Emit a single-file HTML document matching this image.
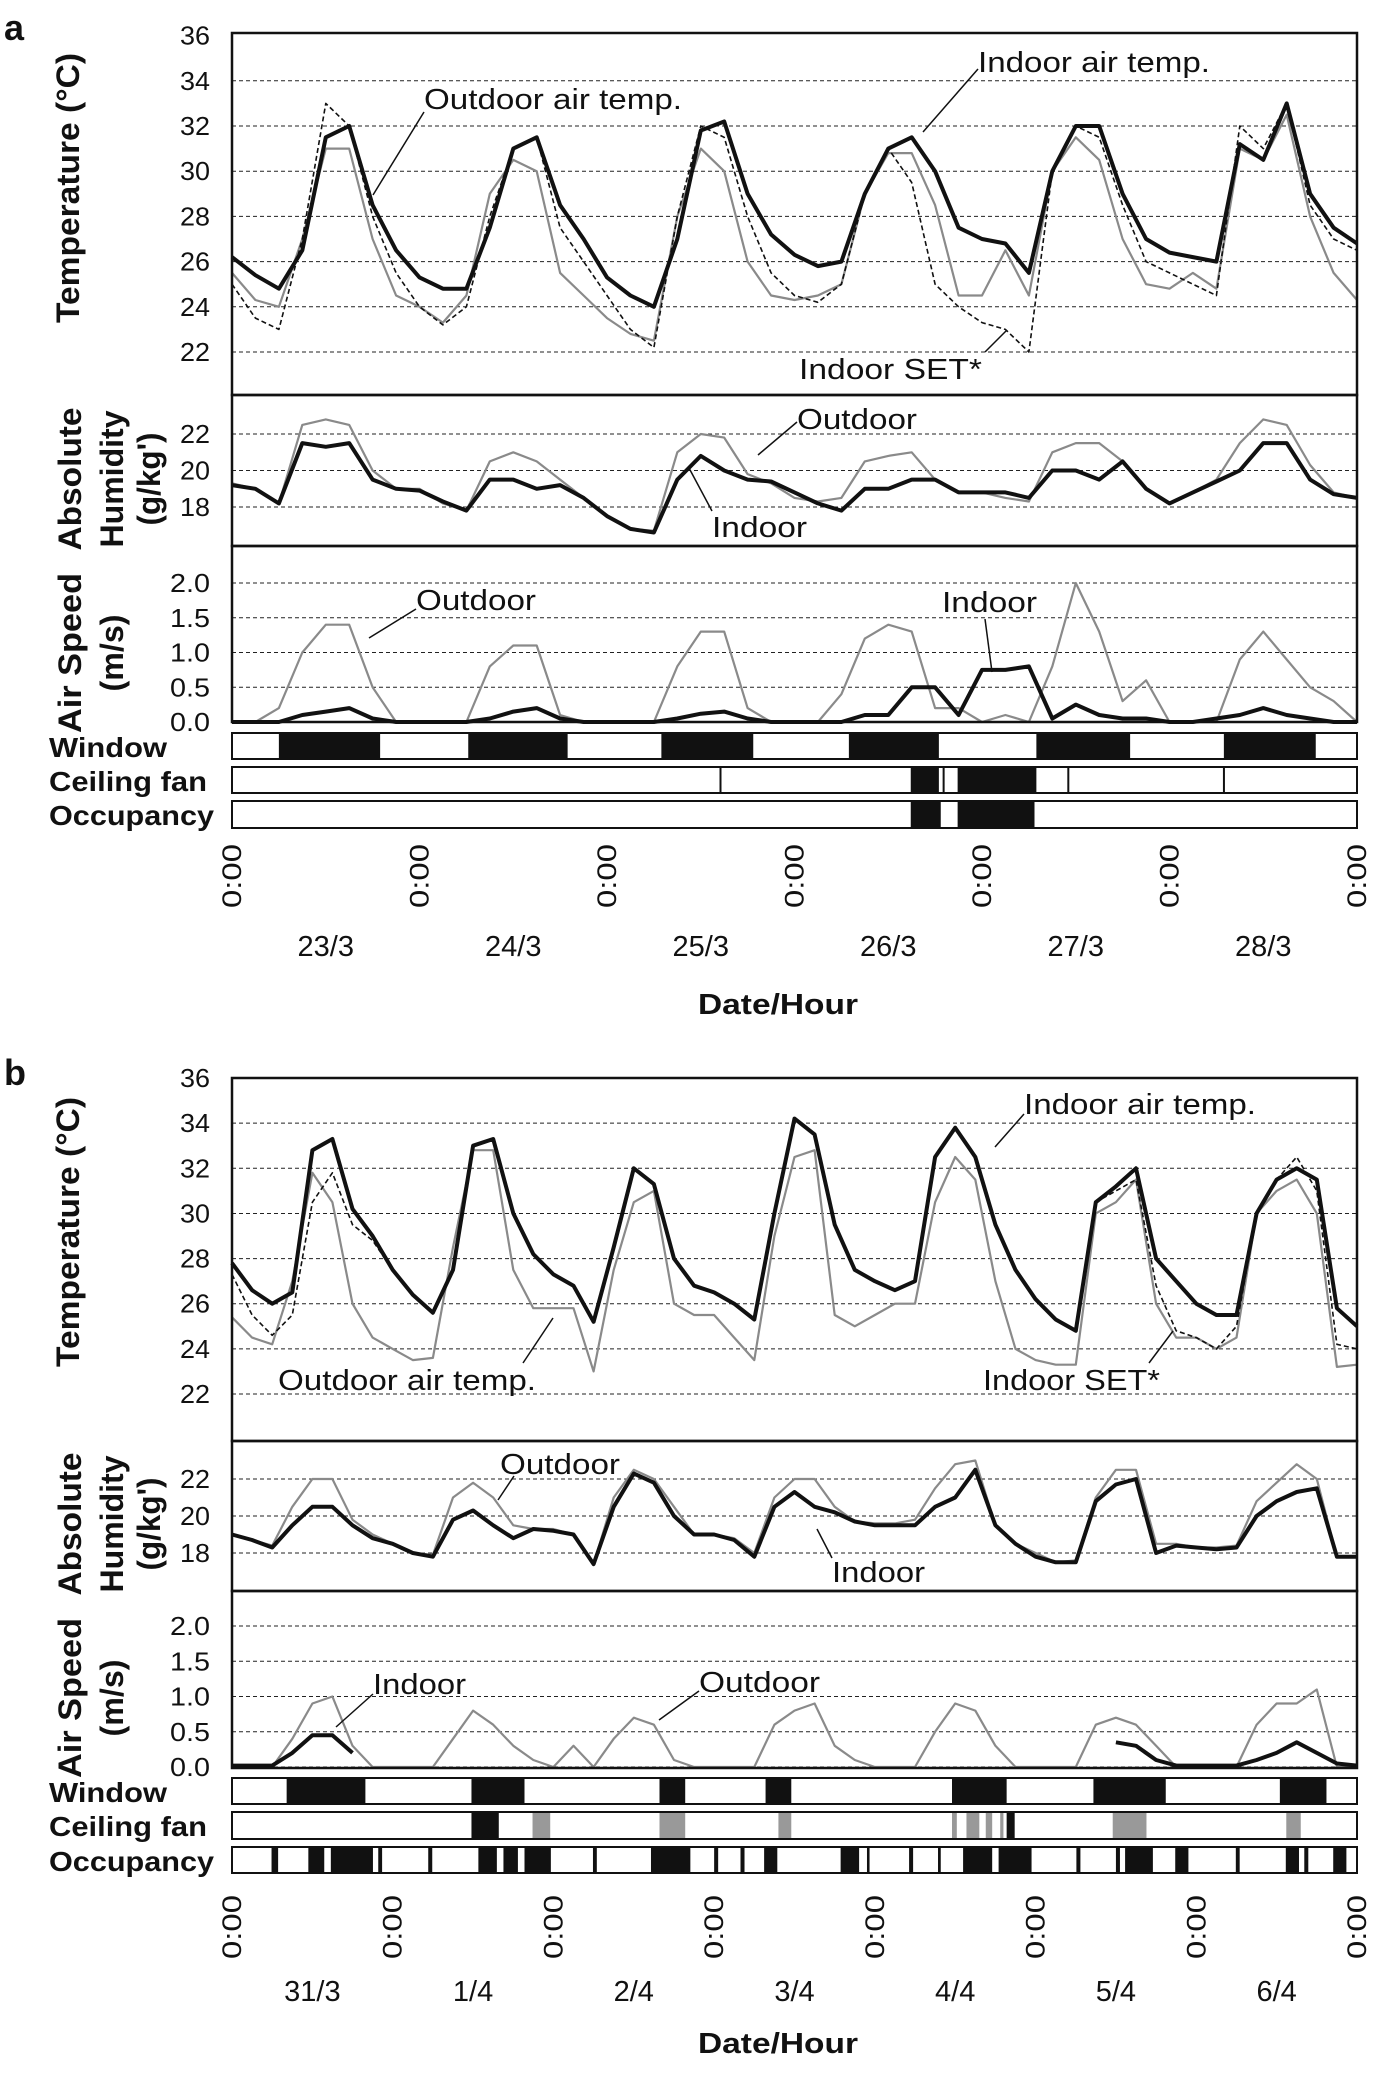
<!DOCTYPE html>
<html><head><meta charset="utf-8"><style>
html,body{margin:0;padding:0;background:#fff}
svg{display:block;font-family:"Liberation Sans",Arial,sans-serif}
</style></head><body>
<svg id="fig" width="1384" height="2075" viewBox="0 0 1384 2075"></svg>
<script>
// ===== Panel a data (3-hourly samples, 6 days + end point) =====
const aDays = ["23/3","24/3","25/3","26/3","27/3","28/3"];
const aTempIndoor = [26.2,25.4,24.8,26.5,31.5,32.0,28.5,26.5, 25.3,24.8,24.8,27.5,31.0,31.5,28.5,27.0, 25.3,24.5,24.0,27,31.8,32.2,29,27.2, 26.3,25.8,26.0,29.0,31.0,31.5,30.0,27.5, 27.0,26.8,25.5,30,32,32,29,27, 26.4,26.2,26.0,31.2,30.5,33.0,29,27.5, 26.8];
const aTempOutdoor = [25.5,24.3,24.0,27,31,31,27,24.5, 24,23.3,24.5,29,30.5,30,25.5,24.5, 23.5,22.8,22.5,28,31,30,26,24.5, 24.3,24.5,25,29,30.8,30.8,28.5,24.5, 24.5,26.5,24.5,30,31.5,30.5,27,25, 24.8,25.5,24.8,31,30.5,32.5,28,25.5, 24.3];
const aTempSET = [25,23.5,23,27,33,32,28,25.5, 24,23.2,24,28,31,31.5,27.5,26, 24.5,23,22.2,28,32,31.5,28,25.5, 24.5,24.2,25,29,31,29.5,25,24, 23.3,23,22,30,32,31.5,28.5,26, 25.5,25,24.5,32,31,33,28.5,27, 26.5];
const aHumIndoor = [19.2,19,18.2,21.5,21.3,21.5,19.5,19.0, 18.9,18.3,17.8,19.5,19.5,19,19.2,18.5, 17.5,16.8,16.6,19.5,20.8,20,19.5,19.4, 18.8,18.2,17.8,19,19,19.5,19.5,18.8, 18.8,18.8,18.5,20,20,19.5,20.5,19, 18.2,18.8,19.4,20,21.5,21.5,19.5,18.7, 18.5];
const aHumOutdoor = [19.3,19,18.2,22.5,22.8,22.5,20,19, 19,18.2,17.8,20.5,21,20.5,19.5,18.5, 17.5,16.8,16.7,21,22,21.8,19.8,19.3, 18.5,18.3,18.5,20.5,20.8,21,19.5,18.8, 18.8,18.5,18.3,21,21.5,21.5,20.5,19, 18.2,18.8,19.5,21.5,22.8,22.5,20.3,18.8, 18.5];
const aAirOutdoor = [0,0,0.2,1.0,1.4,1.4,0.5,0, 0,0,0,0.8,1.1,1.1,0.1,0, 0,0,0,0.8,1.3,1.3,0.2,0, 0,0,0.4,1.2,1.4,1.3,0.2,0.2, 0,0.1,0,0.8,2.0,1.3,0.3,0.6, 0,0,0,0.9,1.3,0.9,0.5,0.3, 0];
const aAirIndoor = [0,0,0,0.1,0.15,0.2,0.05,0, 0,0,0,0.05,0.15,0.2,0.05,0, 0,0,0,0.05,0.12,0.15,0.05,0, 0,0,0,0.1,0.1,0.5,0.5,0.1, 0.75,0.75,0.8,0.05,0.25,0.1,0.05,0.05, 0,0,0.05,0.1,0.2,0.1,0.05,0, 0];
const aWindow = [[0.25,0.79],[1.26,1.79],[2.29,2.78],[3.29,3.77],[4.29,4.79],[5.29,5.78]];
const aFanBlack = [[3.62,3.77],[3.79,3.80],[3.87,4.29],[2.6,2.605],[4.455,4.46],[5.285,5.29]];
const aFanGray = [];
const aOccupancy = [[3.62,3.78],[3.87,4.28]];

// ===== Panel b data =====
const bDays = ["31/3","1/4","2/4","3/4","4/4","5/4","6/4"];
const bTempIndoor = [27.8,26.6,26.0,26.5,32.8,33.3,30.2,29.0, 27.5,26.4,25.6,27.5,33.0,33.3,30,28.2, 27.3,26.8,25.2,28.5,32.0,31.3,28.0,26.8, 26.5,26.0,25.3,30,34.2,33.5,29.5,27.5, 27.0,26.6,27,32.5,33.8,32.5,29.5,27.5, 26.2,25.3,24.8,30.5,31.2,32,28,27.0, 26,25.5,25.5,30,31.5,32,31.5,25.8, 25.0];
const bTempOutdoor = [25.4,24.5,24.2,27,31.8,30.5,26.0,24.5, 24,23.5,23.6,28.5,32.8,32.8,27.5,25.8, 25.8,25.8,23,27.5,30.5,31,26,25.5, 25.5,24.5,23.5,29,32.5,32.8,25.5,25, 25.5,26,26,30.5,32.5,31.5,27,24, 23.5,23.3,23.3,30,30.5,31.5,26,24.5, 24.5,24,24.5,30,31,31.5,30,23.2, 23.3];
const bTempSET = [27.3,25.5,24.6,25.5,30.5,31.8,29.5,28.8, 27.5,26.4,25.6,27.5,33.0,33.3,30,28.2, 27.3,26.8,25.2,28.5,32.0,31.3,28.0,26.8, 26.5,26.0,25.3,30,34.2,33.5,29.5,27.5, 27.0,26.6,27,32.5,33.8,32.5,29.5,27.5, 26.2,25.3,24.8,30.5,31,31.5,26.8,24.8, 24.5,24,25,30,31.5,32.5,31,24.2, 24];
const bHumIndoor = [19,18.7,18.3,19.5,20.5,20.5,19.5,18.8, 18.5,18,17.8,19.8,20.3,19.5,18.8,19.3, 19.2,19,17.4,20.5,22.3,21.8,20,19, 19,18.7,17.8,20.5,21.3,20.5,20.2,19.7, 19.5,19.5,19.5,20.5,21,22.5,19.5,18.5, 17.8,17.5,17.5,20.8,21.7,22,18,18.4, 18.3,18.2,18.3,20,20.8,21.3,21.5,17.8, 17.8];
const bHumOutdoor = [19,18.7,18.4,20.5,22,22,19.8,19, 18.5,18,17.9,21,21.8,21,19.5,19.3, 19.3,19,17.4,21,22.5,22,20.5,19, 19,18.8,18,21,22,22,20.5,19.7, 19.6,19.6,19.8,21.5,22.8,23,19.5,18.5, 18,17.5,17.6,21,22.5,22.5,18.5,18.5, 18.3,18.3,18.4,20.8,21.8,22.8,22,17.8, 17.8];
const bAirOutdoor = [0,0,0,0.4,0.9,1.0,0.3,0, 0,0,0,0.4,0.8,0.6,0.3,0.1, 0,0.3,0,0.4,0.7,0.6,0.1,0, 0,0,0,0.6,0.8,0.9,0.3,0.1, 0,0,0,0.5,0.9,0.8,0.3,0, 0,0,0,0.6,0.7,0.6,0.3,0, 0,0,0,0.6,0.9,0.9,1.1,0, 0];
const bAirIndoor = [0.02,0.02,0.02,0.2,0.45,0.45,0.2,null, null,null,null,null,null,null,null,null, null,null,null,null,null,null,null,null, null,null,null,null,null,null,null,null, null,null,null,null,null,null,null,null, null,null,null,null,0.35,0.3,0.1,0.02, 0.02,0.02,0.02,0.1,0.2,0.35,0.2,0.05, 0.02];
const bWindow = [[0.34,0.83],[1.49,1.82],[2.66,2.82],[3.32,3.48],[4.48,4.82],[5.36,5.81],[6.52,6.81]];
const bFanBlack = [[1.49,1.66],[4.82,4.87]];
const bFanGray = [[1.87,1.98],[2.66,2.82],[3.40,3.48],[4.48,4.51],[4.57,4.65],[4.69,4.73],[4.78,4.80],[5.48,5.69],[6.56,6.65]];
const bOccupancy = [[0.246,0.287],[0.475,0.574],[0.615,0.877],[0.910,0.934],[1.221,1.246],[1.533,1.648],[1.689,1.779],[1.820,1.984],[2.246,2.270],[2.607,2.852],[3.0,3.025],[3.164,3.189],[3.311,3.393],[3.787,3.902],[3.951,3.967],[4.213,4.238],[4.393,4.410],[4.549,4.730],[4.770,4.975],[5.254,5.279],[5.5,5.525],[5.557,5.730],[5.869,5.951],[6.246,6.270],[6.557,6.639],[6.672,6.697],[6.852,6.934]];

const tempTicks = [22,24,26,28,30,32,34,36];
const humTicks = [18,20,22];
const airTicks = [0,0.5,1.0,1.5,2.0];

const NS = "http://www.w3.org/2000/svg";
const svg = document.getElementById('fig');
function el(tag, attrs, parent) {
  const e = document.createElementNS(NS, tag);
  for (const k in attrs) e.setAttribute(k, attrs[k]);
  (parent || svg).appendChild(e);
  return e;
}
function txt(s, x, y, size, opts, parent) {
  const t = el('text', Object.assign({x:x, y:y, 'font-size':size, fill:'#111'}, opts||{}), parent);
  t.textContent = s;
  return t;
}
const L = 232, R = 1357;

function drawPanel(P) {
  const g = el('g', {});
  
  
  const nd = P.days.length;
  const xs = d => L + d * (R - L) / nd;
  const lt = txt(P.id, 4, P.letterY, 36, {'font-weight':'bold'}, g);
  
  

  P.subs.forEach(S => {
    const ys = v => S.y0 - (v - S.v0) * S.k;
    const sg = el('g', {}, g);
    
    
    S.ticks.forEach(v => {
      const y = ys(v);
      if (y > S.top + 3) {
        const gl = el('line', {x1:L, x2:R, y1:y, y2:y, stroke:'#222', 'stroke-width':1, 'stroke-dasharray':'4,3'}, sg);
        
        
      }
      const s = S.fmt(v);
      const tl = txt(s, 210, y + 9, 26, {'text-anchor':'end', 'textLength': s.length > 2 ? 40 : 30, 'lengthAdjust':'spacingAndGlyphs'}, sg);
      
      
    });
    S.series.forEach(ser => {
      let d = '', pen = false;
      ser.data.forEach((v, i) => {
        if (v === null) { pen = false; return; }
        const x = xs(i / 8), y = ys(v);
        d += (pen ? 'L' : 'M') + x.toFixed(1) + ',' + y.toFixed(1);
        pen = true;
      });
      const p = el('path', {d:d, fill:'none', stroke:ser.color, 'stroke-width':ser.w, 'stroke-linejoin':'round', 'stroke-dasharray':ser.dash||'none'}, sg);
      
      
    });
    const fr = el('rect', {x:L, y:S.top, width:R-L, height:S.bot-S.top, fill:'none', stroke:'#111', 'stroke-width':2.5}, sg);
    
    
    S.title.forEach((line, i) => {
      const t = txt(line, 0, 0, 32, {'font-weight':'bold', 'text-anchor':'middle', 'textLength':S.titleW[i], 'lengthAdjust':'spacingAndGlyphs', transform:'translate(' + (S.titleX[i]) + ',' + S.titleY + ') rotate(-90)'}, sg);
      
      
    });
  });

  P.bars.forEach(B => {
    const bg = el('g', {}, g);
    
    
    const lab = txt(B.label, 49, B.y + 24, 28, {'font-weight':'bold', 'textLength':B.lw, 'lengthAdjust':'spacingAndGlyphs'}, bg);
    
    
    (B.gray || []).forEach(s => {
      const r = el('rect', {x:xs(s[0]), y:B.y, width:Math.max(2, xs(s[1]) - xs(s[0])), height:B.h, fill:'#999'}, bg);
      
      
    });
    B.black.forEach(s => {
      const r = el('rect', {x:xs(s[0]), y:B.y, width:Math.max(2, xs(s[1]) - xs(s[0])), height:B.h, fill:'#111'}, bg);
      
      
    });
    const f = el('rect', {x:L, y:B.y, width:R-L, height:B.h, fill:'none', stroke:'#111', 'stroke-width':2}, bg);
    
    
  });

  for (let i = 0; i <= nd; i++) {
    const x = xs(i);
    const t = txt('0:00', 0, 0, 27, {'text-anchor':'middle', 'textLength':64, 'lengthAdjust':'spacingAndGlyphs', transform:'translate(' + (x + 9) + ',' + P.tickY + ') rotate(-90)'}, g);
    
    
  }
  P.days.forEach((dname, i) => {
    const t = txt(dname, xs(i + 0.5), P.dateY, 29, {'text-anchor':'middle'}, g);
    
    
  });
  const xt = txt('Date/Hour', 778, P.xtitleY, 29, {'font-weight':'bold', 'text-anchor':'middle', 'textLength':160, 'lengthAdjust':'spacingAndGlyphs'}, g);
  
  

  P.notes.forEach(n => {
    const t = txt(n.t, n.x, n.y, 29, {'textLength':n.w, 'lengthAdjust':'spacingAndGlyphs'}, g);
    
    
    const l = el('line', {x1:n.l[0], y1:n.l[1], x2:n.l[2], y2:n.l[3], stroke:'#111', 'stroke-width':1.5}, g);
    
    
  });
}

const f1 = v => v.toString();
const f2 = v => v.toFixed(1);
const gray = '#8a8a8a';

drawPanel({
  id:'a', days:aDays, letterY:40, tickY:876, dateY:956, xtitleY:1014,
  subs:[
    {name:'temperature', top:33, bot:395, y0:352, v0:22, k:22.6, ticks:tempTicks, fmt:f1,
     title:['Temperature (°C)'], titleW:[270], titleX:[79], titleY:188,
     series:[{name:'outdoor-temp-line', data:aTempOutdoor, color:gray, w:2.2},
             {name:'set-line', data:aTempSET, color:'#111', w:1.6, dash:'5,3'},
             {name:'indoor-temp-line', data:aTempIndoor, color:'#111', w:4}]},
    {name:'humidity', top:395, bot:546, y0:507, v0:18, k:18.25, ticks:humTicks, fmt:f1,
     title:['Absolute','Humidity','(g/kg\')'], titleW:[143,137,93], titleX:[81,123,160], titleY:479,
     series:[{name:'outdoor-humidity-line', data:aHumOutdoor, color:gray, w:2.2},
             {name:'indoor-humidity-line', data:aHumIndoor, color:'#111', w:4}]},
    {name:'air-speed', top:546, bot:722, y0:722, v0:0, k:69.5, ticks:airTicks, fmt:f2,
     title:['Air Speed','(m/s)'], titleW:[160,77], titleX:[81,123], titleY:653,
     series:[{name:'outdoor-air-line', data:aAirOutdoor, color:gray, w:2.2},
             {name:'indoor-air-line', data:aAirIndoor, color:'#111', w:4}]}
  ],
  bars:[
    {name:'window', label:'Window', lw:118, y:733, h:26, black:aWindow},
    {name:'ceiling-fan', label:'Ceiling fan', lw:158, y:767, h:26, black:aFanBlack, gray:aFanGray},
    {name:'occupancy', label:'Occupancy', lw:165, y:801, h:27, black:aOccupancy}
  ],
  notes:[
    {t:'Outdoor air temp.', x:424, y:109, w:258, l:[424,112,373,195]},
    {t:'Indoor air temp.', x:978, y:72, w:232, l:[978,69,923,132]},
    {t:'Indoor SET*', x:799, y:379, w:183, l:[985,352,1007,330]},
    {t:'Outdoor', x:797, y:429, w:120, l:[797,422,758,455]},
    {t:'Indoor', x:712, y:537, w:95, l:[712,511,689,468]},
    {t:'Outdoor', x:416, y:610, w:120, l:[416,609,369,638]},
    {t:'Indoor', x:942, y:612, w:95, l:[985,619,992,672]}
  ]
});

drawPanel({
  id:'b', days:bDays, letterY:1085, tickY:1927, dateY:2001, xtitleY:2053,
  subs:[
    {name:'temperature', top:1078, bot:1441, y0:1394, v0:22, k:22.57, ticks:tempTicks, fmt:f1,
     title:['Temperature (°C)'], titleW:[270], titleX:[79], titleY:1232,
     series:[{name:'outdoor-temp-line', data:bTempOutdoor, color:gray, w:2.2},
             {name:'set-line', data:bTempSET, color:'#111', w:1.6, dash:'5,3'},
             {name:'indoor-temp-line', data:bTempIndoor, color:'#111', w:4}]},
    {name:'humidity', top:1441, bot:1591, y0:1553, v0:18, k:18.5, ticks:humTicks, fmt:f1,
     title:['Absolute','Humidity','(g/kg\')'], titleW:[143,137,93], titleX:[81,123,160], titleY:1524,
     series:[{name:'outdoor-humidity-line', data:bHumOutdoor, color:gray, w:2.2},
             {name:'indoor-humidity-line', data:bHumIndoor, color:'#111', w:4}]},
    {name:'air-speed', top:1591, bot:1768, y0:1767, v0:0, k:70.5, ticks:airTicks, fmt:f2,
     title:['Air Speed','(m/s)'], titleW:[160,77], titleX:[81,123], titleY:1698,
     series:[{name:'outdoor-air-line', data:bAirOutdoor, color:gray, w:2.2},
             {name:'indoor-air-line', data:bAirIndoor, color:'#111', w:4}]}
  ],
  bars:[
    {name:'window', label:'Window', lw:118, y:1778, h:26, black:bWindow},
    {name:'ceiling-fan', label:'Ceiling fan', lw:158, y:1812, h:27, black:bFanBlack, gray:bFanGray},
    {name:'occupancy', label:'Occupancy', lw:165, y:1847, h:26, black:bOccupancy}
  ],
  notes:[
    {t:'Outdoor air temp.', x:278, y:1390, w:258, l:[523,1363,553,1318]},
    {t:'Indoor air temp.', x:1024, y:1114, w:232, l:[1024,1114,995,1147]},
    {t:'Indoor SET*', x:983, y:1390, w:177, l:[1149,1363,1173,1331]},
    {t:'Outdoor', x:500, y:1474, w:120, l:[514,1476,498,1500]},
    {t:'Indoor', x:832, y:1582, w:93, l:[832,1558,817,1529]},
    {t:'Indoor', x:373, y:1694, w:93, l:[373,1694,336,1727]},
    {t:'Outdoor', x:699, y:1692, w:121, l:[699,1691,659,1720]}
  ]
});
</script>
</body></html>
